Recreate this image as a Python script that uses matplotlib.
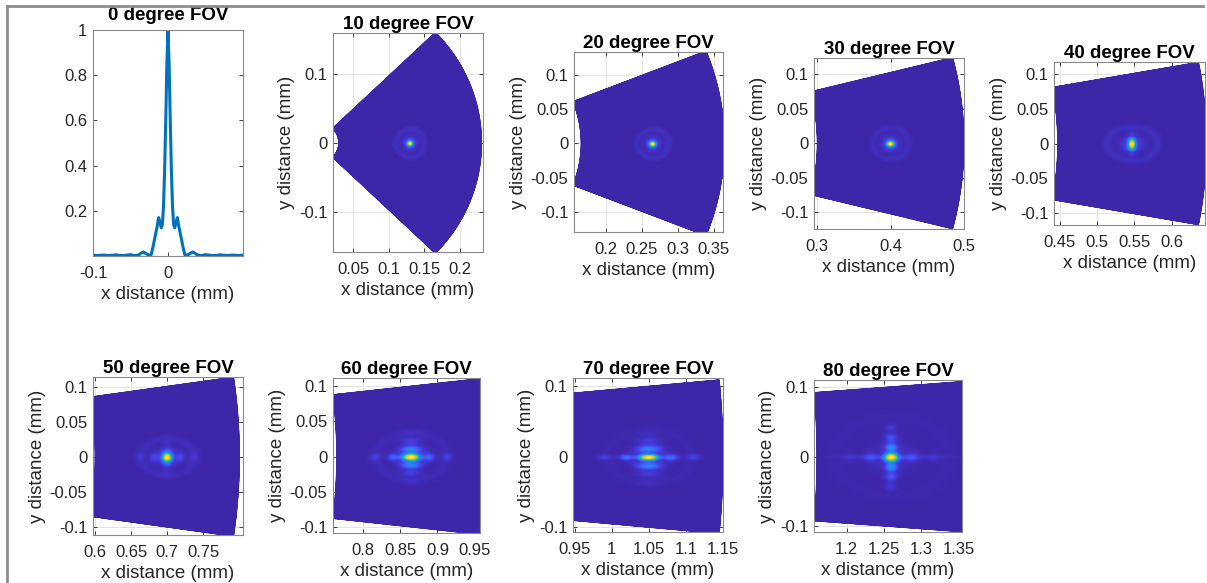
import numpy as np
import matplotlib
matplotlib.use("Agg")
import matplotlib.pyplot as plt
from matplotlib.colors import LinearSegmentedColormap
from matplotlib.lines import Line2D

# ---- data ----
# 0 degree FOV line profile (half, mirrored about x = 0)
prof_x = [0.0, 0.0015, 0.003, 0.0045, 0.006, 0.0075, 0.009, 0.0108, 0.0125, 0.0145,
          0.017, 0.020, 0.0225, 0.026, 0.030, 0.033, 0.036, 0.040, 0.045, 0.050,
          0.055, 0.060, 0.065, 0.070, 0.075, 0.080, 0.085, 0.090, 0.095, 0.100]
prof_y = [1.0, 0.85, 0.6, 0.38, 0.22, 0.14, 0.125, 0.15, 0.17, 0.13,
          0.09, 0.04, 0.005, 0.004, 0.012, 0.018, 0.012, 0.003, 0.002, 0.006,
          0.004, 0.002, 0.003, 0.005, 0.003, 0.002, 0.004, 0.003, 0.002, 0.004]

# off-axis spots
fov = [10, 20, 30, 40, 50, 60, 70, 80]
center_x = [0.13, 0.265, 0.40, 0.547, 0.70, 0.865, 1.05, 1.26]
core_wx = [0.0028, 0.0032, 0.0038, 0.0036, 0.0048, 0.0085, 0.0095, 0.0068]
core_wy = [0.0028, 0.0028, 0.0030, 0.0045, 0.0045, 0.0038, 0.0032, 0.0048]
halo_rx = [0.011, 0.012, 0.013, 0.018, 0.020, 0.025, 0.030, 0.040]
halo_ry = [0.011, 0.011, 0.012, 0.013, 0.014, 0.018, 0.020, 0.030]
halo_amp = [0.32, 0.32, 0.30, 0.22, 0.20, 0.12, 0.08, 0.06]
ring_amp = [0.06, 0.06, 0.05, 0.05, 0.04, 0.025, 0.015, 0.012]
vlobe_dy = [0.0, 0.0, 0.0, 0.0075, 0.0095, 0.0115, 0.0120, 0.0140]
vlobe_amp = [0.0, 0.0, 0.0, 0.32, 0.16, 0.30, 0.32, 0.40]
vlobe_decay = [0.0, 0.0, 0.0, 0.3, 0.3, 0.35, 0.3, 0.5]
vlobe_wx = [0.0, 0.0, 0.0, 0.0035, 0.0045, 0.0090, 0.0110, 0.0055]
hlobe_dx = [0.0, 0.0, 0.0, 0.0, 0.019, 0.024, 0.030, 0.028]
hlobe_amp = [0.0, 0.0, 0.0, 0.0, 0.12, 0.22, 0.24, 0.12]
streak_len = [0.0, 0.0, 0.0, 0.0, 0.0, 0.0, 0.025, 0.040]
streak_amp = [0.0, 0.0, 0.0, 0.0, 0.0, 0.0, 0.08, 0.14]

xlims = [(0.022, 0.232), (0.155, 0.363), (0.2955, 0.4986), (0.442, 0.645),
         (0.597, 0.805), (0.760, 0.957), (0.9477, 1.150), (1.156, 1.3546)]
ylims = [(-0.158, 0.159), (-0.129, 0.133), (-0.124, 0.123), (-0.118, 0.118),
         (-0.112, 0.114), (-0.109, 0.112), (-0.107, 0.112), (-0.108, 0.110)]
xticks = [[0.05, 0.1, 0.15, 0.2], [0.2, 0.25, 0.3, 0.35], [0.3, 0.4, 0.5],
          [0.45, 0.5, 0.55, 0.6], [0.6, 0.65, 0.7, 0.75], [0.8, 0.85, 0.9, 0.95],
          [0.95, 1, 1.05, 1.1, 1.15], [1.2, 1.25, 1.3, 1.35]]
yticks = [[-0.1, 0, 0.1], [-0.1, -0.05, 0, 0.05, 0.1], [-0.1, -0.05, 0, 0.05, 0.1],
          [-0.1, -0.05, 0, 0.05, 0.1], [-0.1, -0.05, 0, 0.05, 0.1],
          [-0.1, -0.05, 0, 0.05, 0.1], [-0.1, 0, 0.1], [-0.1, 0, 0.1]]

# axes boxes in pixels: left, top, right, bottom
boxes = [(93, 30, 243, 256),
         (333, 33, 483, 252), (574, 52, 723, 232), (814, 58, 964, 229),
         (1054, 62, 1205, 225), (93, 377, 243, 535), (333, 378, 480, 533),
         (573, 378, 723, 532), (814, 380, 962, 532)]

# parula-like colormap
parula = LinearSegmentedColormap.from_list("parula", [
    (0.2422, 0.1504, 0.6603), (0.2760, 0.2400, 0.8900), (0.2600, 0.3900, 0.9950),
    (0.1700, 0.5300, 0.9600), (0.0700, 0.6400, 0.8700), (0.0300, 0.7100, 0.8000),
    (0.1800, 0.7700, 0.6500), (0.4400, 0.8000, 0.4400), (0.7200, 0.7900, 0.2500),
    (0.9900, 0.7400, 0.2400), (0.9769, 0.9839, 0.0805)])

W, H = 1207, 583
plt.rcParams['font.family'] = ['Liberation Sans', 'DejaVu Sans']
fig = plt.figure(figsize=(W / 100, H / 100), dpi=100)

tick_col = '#262626'


def make_ax(box):
    l, t, r, b = box
    ax = fig.add_axes([l / W, 1 - b / H, (r - l) / W, (b - t) / H])
    ax.tick_params(direction='in', length=3, width=0.6, colors=tick_col,
                   labelsize=12, top=True, right=True)
    ax.tick_params(axis='x', pad=7)
    ax.tick_params(axis='y', pad=4)
    for s in ax.spines.values():
        s.set_color('#8a8a8a')
        s.set_linewidth(0.8)
    return ax


def fmt(v):
    return '%g' % v


def blob(u, v, x0, y0, sx, sy, p=1.0):
    q = (u - x0) ** 2 / (2 * sx ** 2) + (v - y0) ** 2 / (2 * sy ** 2)
    return np.exp(-q ** p)


# panel 1: line profile
ax = make_ax(boxes[0])
px = np.array(prof_x)
py = np.array(prof_y)
ax.plot(np.concatenate([-px[::-1], px[1:]]), np.concatenate([py[::-1], py[1:]]),
        color='#0072BD', lw=2.2)
ax.set_xlim(-0.1, 0.1)
ax.set_ylim(0, 1)
ax.set_xticks([-0.1, 0])
ax.set_xticklabels([fmt(v) for v in [-0.1, 0]])
ax.set_yticks([0.2, 0.4, 0.6, 0.8, 1])
ax.set_yticklabels([fmt(v) for v in [0.2, 0.4, 0.6, 0.8, 1]])
ax.set_title('0 degree FOV', fontsize=13.5, fontweight='bold', pad=7)
ax.set_xlabel('x distance (mm)', fontsize=13.5, color=tick_col, labelpad=4)

# off-axis spot panels
n = 360
for i in range(len(fov)):
    ax = make_ax(boxes[i + 1])
    c = center_x[i]
    r = np.linspace(c - 0.1, c + 0.1, n)
    s = np.linspace(-0.1, 0.1, n)
    R, S = np.meshgrid(r, s)
    X = R * np.cos(S / c)
    Y = R * np.sin(S / c)
    u = R - c
    v = S
    Z = blob(u, v, 0, 0, core_wx[i], core_wy[i], 1.4)
    Z += halo_amp[i] * blob(u, v, 0, 0, halo_rx[i] * 0.55, halo_ry[i] * 0.55)
    rho = np.sqrt((u / halo_rx[i]) ** 2 + (v / halo_ry[i]) ** 2)
    Z += ring_amp[i] * np.exp(-((rho - 1.9) / 0.3) ** 2 / 2)
    if vlobe_amp[i] > 0:
        dy = vlobe_dy[i]
        for k in range(1, 4):
            a = vlobe_amp[i] * vlobe_decay[i] ** (k - 1)
            for sg in (-1, 1):
                Z += a * blob(u, v, 0, sg * k * dy, vlobe_wx[i], dy * 0.3)
    if hlobe_amp[i] > 0:
        dx = hlobe_dx[i]
        for k in range(1, 3):
            a = hlobe_amp[i] * 0.45 ** (k - 1)
            for sg in (-1, 1):
                Z += a * blob(u, v, sg * k * dx, 0, dx * 0.22, core_wy[i])
    if streak_amp[i] > 0:
        Z += streak_amp[i] * np.exp(-np.abs(u) / streak_len[i]) * np.exp(-v ** 2 / (2 * 0.0025 ** 2))
    ax.grid(True, color='#e3e3e3', lw=0.7)
    ax.set_axisbelow(True)
    ax.pcolormesh(X, Y, Z, shading='gouraud', cmap=parula, vmin=0, vmax=Z.max(),
                  zorder=2, rasterized=True)
    ax.set_xlim(*xlims[i])
    ax.set_ylim(*ylims[i])
    ax.set_xticks(xticks[i])
    ax.set_xticklabels([fmt(t) for t in xticks[i]])
    ax.set_yticks(yticks[i])
    ax.set_yticklabels([fmt(t) for t in yticks[i]])
    ax.set_title('%d degree FOV' % fov[i], fontsize=13.5, fontweight='bold', pad=3)
    ax.set_xlabel('x distance (mm)', fontsize=13.5, color=tick_col, labelpad=4)
    ax.set_ylabel('y distance (mm)', fontsize=13.5, color=tick_col, labelpad=3)

# frame lines of the original screenshot
fig.add_artist(Line2D([7 / W, 1203 / W], [1 - 6 / H, 1 - 6 / H], color='#8c8c8c', lw=2))
fig.add_artist(Line2D([7 / W, 7 / W], [0, 1 - 6 / H], color='#8c8c8c', lw=2))

fig.savefig('out.png', dpi=100)
